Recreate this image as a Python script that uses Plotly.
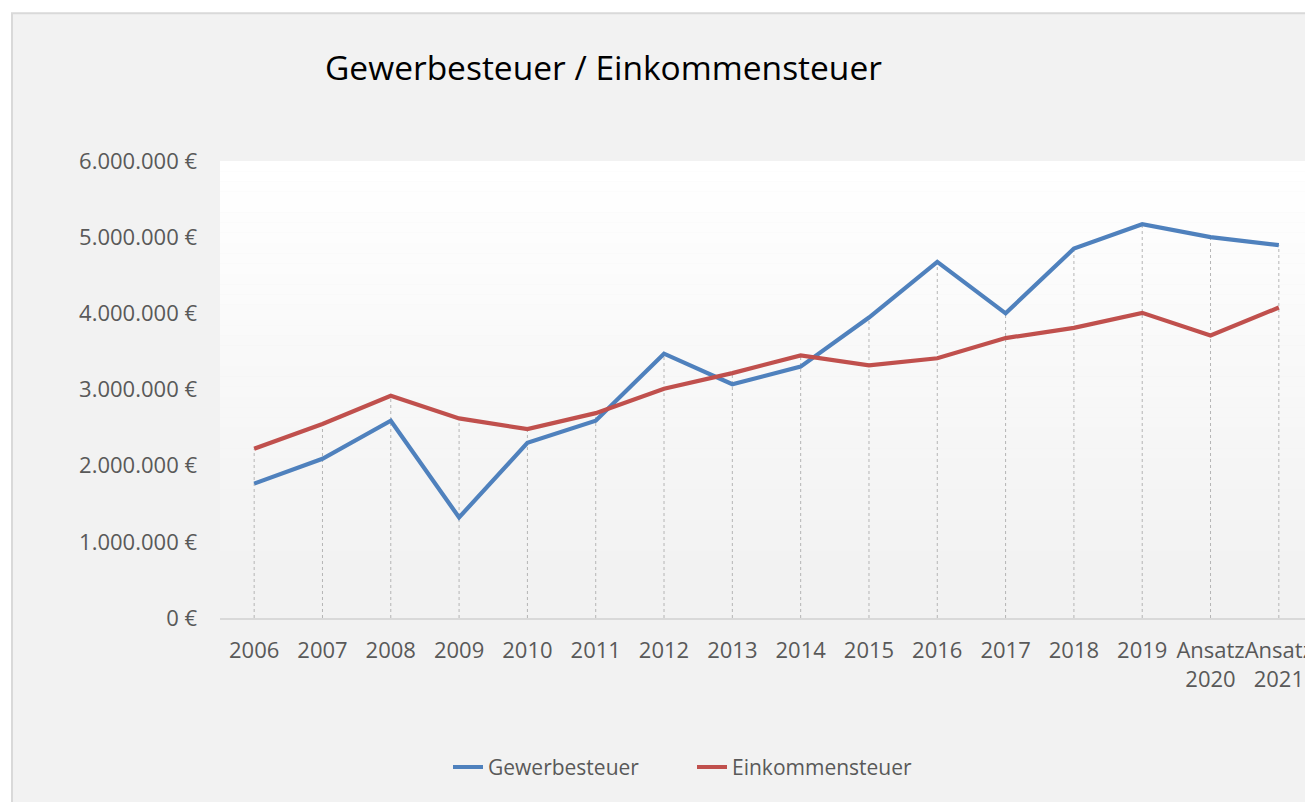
import plotly.graph_objects as go

# Data
years = ["2006", "2007", "2008", "2009", "2010", "2011", "2012", "2013",
         "2014", "2015", "2016", "2017", "2018", "2019", "Ansatz<br>2020", "Ansatz<br>2021"]
gewerbesteuer = [1764000, 2090000, 2590000, 1320000, 2300000, 2590000, 3470000, 3070000,
                 3300000, 3945000, 4675000, 4000000, 4850000, 5170000, 5000000, 4895000]
einkommensteuer = [2223000, 2547000, 2918000, 2620000, 2480000, 2690000, 3010000, 3215000,
                   3447000, 3316000, 3410000, 3675000, 3810000, 4006000, 3710000, 4076000]

# page body has an 8px margin, so work in window pixels and shift
OFF = 8
W, H = 1313 - OFF, 802 - OFF
L, T = 220 - OFF, 161 - OFF
B = H - (618.5 - OFF)
plot_w = W - L
plot_h = H - T - B


def px_x(p):
    return (p - OFF - L) / plot_w


def px_y(p):
    return (H - B - (p - OFF)) / plot_h


fig = go.Figure()

# Drop lines from axis to the higher of the two series
drop_x, drop_y = [], []
for c, a, b in zip(years, gewerbesteuer, einkommensteuer):
    drop_x += [c, c, None]
    drop_y += [0, max(a, b), None]
fig.add_trace(go.Scatter(x=drop_x, y=drop_y, mode="lines", showlegend=False,
                         hoverinfo="skip", line=dict(color="#b5b5b5", width=1, dash="dot")))

fig.add_trace(go.Scatter(x=years, y=gewerbesteuer, mode="lines", name="Gewerbesteuer",
                         line=dict(color="#4f81bd", width=4.2)))
fig.add_trace(go.Scatter(x=years, y=einkommensteuer, mode="lines", name="Einkommensteuer",
                         line=dict(color="#c0504d", width=4.2)))

# Outer chart frame
shapes = [dict(type="rect", xref="paper", yref="paper", layer="below",
               x0=px_x(12), x1=px_x(1340), y0=px_y(830), y1=px_y(13),
               fillcolor="#f2f2f2", line=dict(color="#d9d9d9", width=2))]

# Plot area gradient, white at the top fading into the frame grey
n = 40
g_bot = px_y(572)
for i in range(n):
    y0 = g_bot + (1 - g_bot) * i / n
    y1 = g_bot + (1 - g_bot) * (i + 1) / n
    v = int(round(242 + 13 * (i + 0.5) / n))
    shapes.append(dict(type="rect", xref="paper", yref="paper", layer="below",
                       x0=0, x1=1, y0=y0, y1=y1, fillcolor=f"rgb({v},{v},{v})",
                       line=dict(width=0)))

fig.update_layout(
    width=W, height=H,
    margin=dict(l=L, r=0, t=T, b=B),
    paper_bgcolor="white",
    plot_bgcolor="rgba(0,0,0,0)",
    separators=",.",
    shapes=shapes,
    font=dict(family="Open Sans", color="#595959"),
    title=dict(text="Gewerbesteuer / Einkommensteuer", x=(325 - OFF) / W, xanchor="left",
               y=1 - (68 - OFF) / H, yanchor="middle",
               font=dict(family="Open Sans", size=33.5, color="#000000")),
    xaxis=dict(type="category", range=[-0.5, 15.5], showgrid=False, zeroline=False,
               showline=True, linecolor="#d9d9d9", linewidth=2, ticks="", tickangle=0,
               ticklabelstandoff=12, tickfont=dict(size=22, color="#595959")),
    yaxis=dict(range=[0, 6000000], dtick=1000000, tickformat=",d", ticksuffix=" €",
               showgrid=False, zeroline=False, showline=False, ticks="",
               ticklabelstandoff=22, tickfont=dict(size=22, color="#595959")),
    legend=dict(orientation="h", x=px_x(448), xanchor="left", y=px_y(768),
                yanchor="middle", bgcolor="rgba(0,0,0,0)",
                entrywidth=199, entrywidthmode="pixels",
                font=dict(size=21, color="#595959")),
)

fig.write_html("out.html")
